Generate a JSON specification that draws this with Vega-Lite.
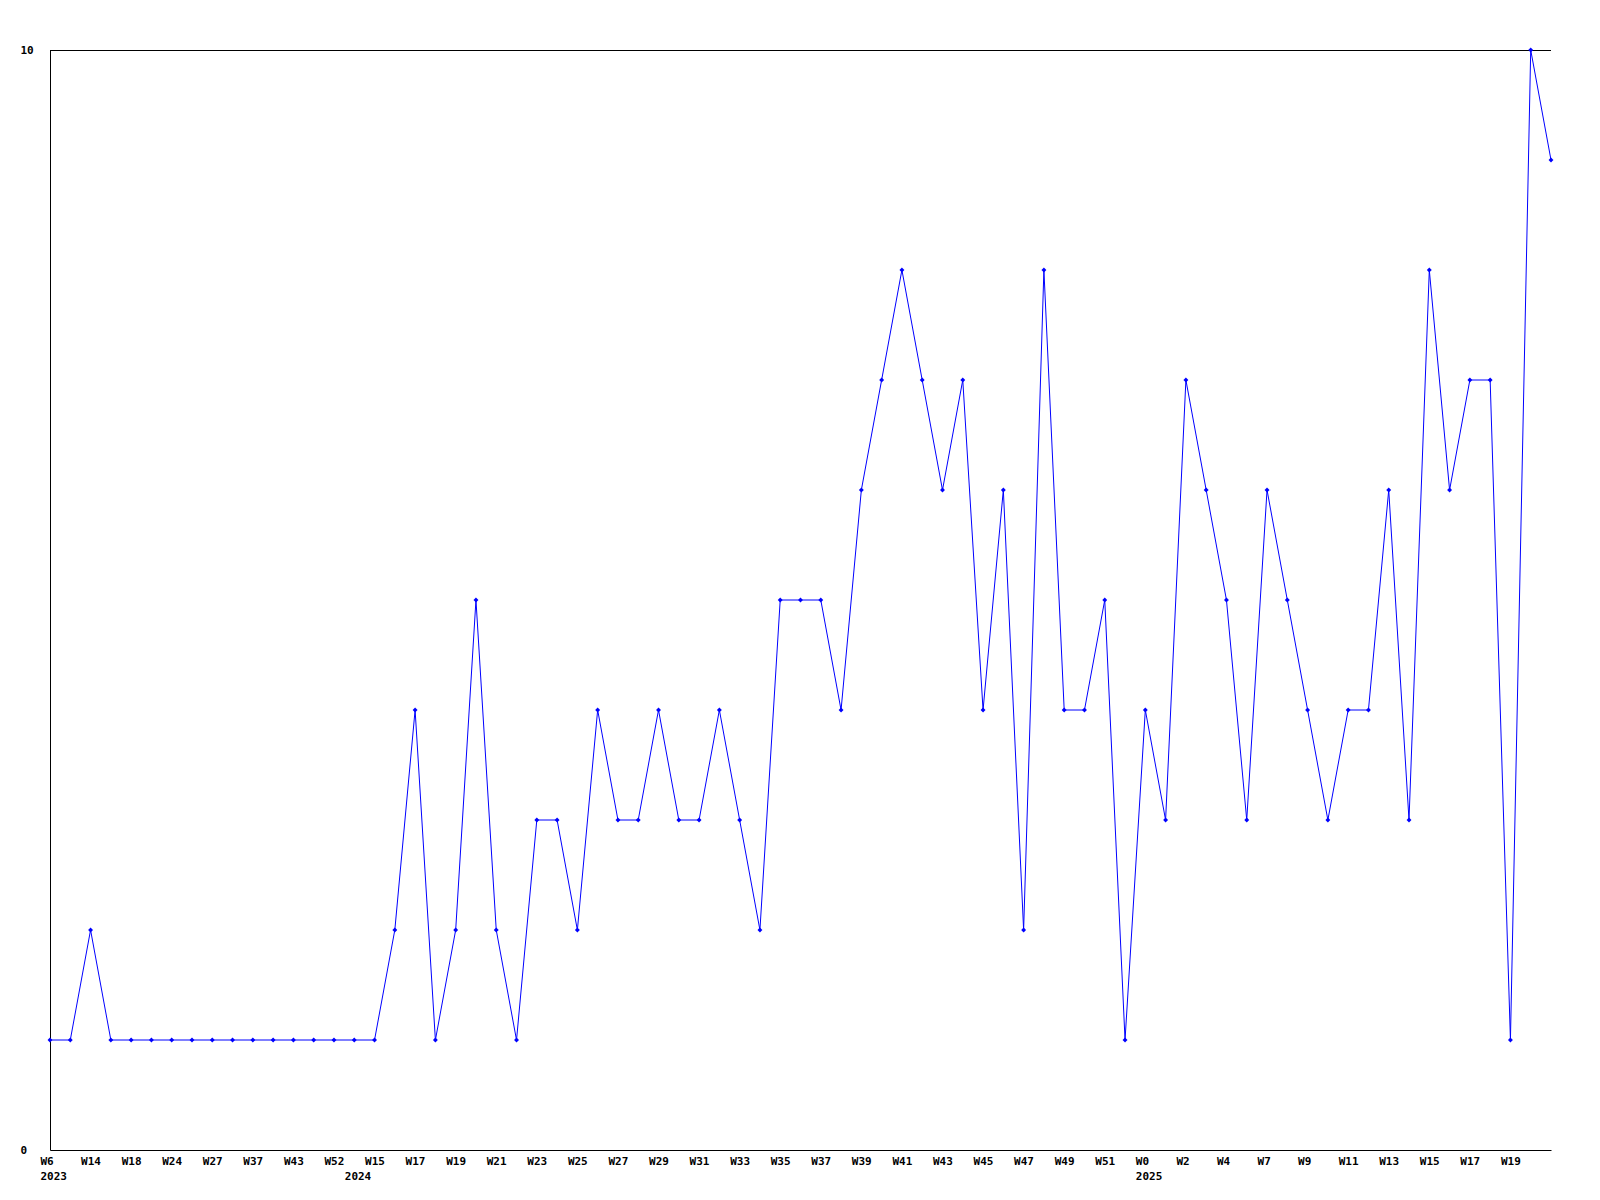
{
  "$schema": "https://vega.github.io/schema/vega-lite/v6.json",
  "width": 1501,
  "height": 1100,
  "autosize": {"type": "none"},
  "padding": {"left": 50, "top": 50, "right": 49, "bottom": 50},
  "background": "white",
  "config": {
    "view": {"stroke": null},
    "font": "DejaVu Sans Mono",
    "axis": {
      "domainColor": "black",
      "domainWidth": 1,
      "ticks": false,
      "tickSize": 0,
      "grid": false,
      "labelFont": "DejaVu Sans Mono",
      "labelFontWeight": "bold",
      "labelFontSize": 11,
      "labelColor": "black",
      "title": null
    }
  },
  "data": {
    "values": [
      {"week": "2023-W06", "count": 1},
      {"week": "2023-W10", "count": 1},
      {"week": "2023-W14", "count": 2},
      {"week": "2023-W16", "count": 1},
      {"week": "2023-W18", "count": 1},
      {"week": "2023-W21", "count": 1},
      {"week": "2023-W24", "count": 1},
      {"week": "2023-W25", "count": 1},
      {"week": "2023-W27", "count": 1},
      {"week": "2023-W32", "count": 1},
      {"week": "2023-W37", "count": 1},
      {"week": "2023-W40", "count": 1},
      {"week": "2023-W43", "count": 1},
      {"week": "2023-W48", "count": 1},
      {"week": "2023-W52", "count": 1},
      {"week": "2024-W08", "count": 1},
      {"week": "2024-W15", "count": 1},
      {"week": "2024-W16", "count": 2},
      {"week": "2024-W17", "count": 4},
      {"week": "2024-W18", "count": 1},
      {"week": "2024-W19", "count": 2},
      {"week": "2024-W20", "count": 5},
      {"week": "2024-W21", "count": 2},
      {"week": "2024-W22", "count": 1},
      {"week": "2024-W23", "count": 3},
      {"week": "2024-W24", "count": 3},
      {"week": "2024-W25", "count": 2},
      {"week": "2024-W26", "count": 4},
      {"week": "2024-W27", "count": 3},
      {"week": "2024-W28", "count": 3},
      {"week": "2024-W29", "count": 4},
      {"week": "2024-W30", "count": 3},
      {"week": "2024-W31", "count": 3},
      {"week": "2024-W32", "count": 4},
      {"week": "2024-W33", "count": 3},
      {"week": "2024-W34", "count": 2},
      {"week": "2024-W35", "count": 5},
      {"week": "2024-W36", "count": 5},
      {"week": "2024-W37", "count": 5},
      {"week": "2024-W38", "count": 4},
      {"week": "2024-W39", "count": 6},
      {"week": "2024-W40", "count": 7},
      {"week": "2024-W41", "count": 8},
      {"week": "2024-W42", "count": 7},
      {"week": "2024-W43", "count": 6},
      {"week": "2024-W44", "count": 7},
      {"week": "2024-W45", "count": 4},
      {"week": "2024-W46", "count": 6},
      {"week": "2024-W47", "count": 2},
      {"week": "2024-W48", "count": 8},
      {"week": "2024-W49", "count": 4},
      {"week": "2024-W50", "count": 4},
      {"week": "2024-W51", "count": 5},
      {"week": "2024-W52", "count": 1},
      {"week": "2025-W00", "count": 4},
      {"week": "2025-W01", "count": 3},
      {"week": "2025-W02", "count": 7},
      {"week": "2025-W03", "count": 6},
      {"week": "2025-W04", "count": 5},
      {"week": "2025-W05", "count": 3},
      {"week": "2025-W07", "count": 6},
      {"week": "2025-W08", "count": 5},
      {"week": "2025-W09", "count": 4},
      {"week": "2025-W10", "count": 3},
      {"week": "2025-W11", "count": 4},
      {"week": "2025-W12", "count": 4},
      {"week": "2025-W13", "count": 6},
      {"week": "2025-W14", "count": 3},
      {"week": "2025-W15", "count": 8},
      {"week": "2025-W16", "count": 6},
      {"week": "2025-W17", "count": 7},
      {"week": "2025-W18", "count": 7},
      {"week": "2025-W19", "count": 1},
      {"week": "2025-W20", "count": 10},
      {"week": "2025-W21", "count": 9}
    ]
  },
  "layer": [
    {
      "mark": {"type": "rule", "color": "black", "strokeWidth": 1, "yOffset": 0.5},
      "encoding": {
        "y": {"datum": 10, "type": "quantitative", "scale": {"domain": [0, 10]},
          "axis": {"values": [0, 10], "format": "d", "labelAlign": "left", "labelPadding": 30, "labelBaseline": "middle"}}
      }
    },
    {
      "mark": {"type": "line", "color": "#0000ff", "strokeWidth": 1},
      "encoding": {
        "x": {"field": "week", "type": "ordinal", "sort": null,
          "scale": {"type": "point", "padding": 0},
          "axis": {
            "values": ["2023-W06","2023-W14","2023-W18","2023-W24","2023-W27","2023-W37","2023-W43","2023-W52","2024-W08","2024-W15","2024-W17","2024-W19","2024-W21","2024-W23","2024-W25","2024-W27","2024-W29","2024-W31","2024-W33","2024-W35","2024-W37","2024-W39","2024-W41","2024-W43","2024-W45","2024-W47","2024-W49","2024-W51","2025-W00","2025-W02","2025-W04","2025-W07","2025-W09","2025-W11","2025-W13","2025-W15","2025-W17","2025-W19"],
            "labelExpr": "datum.value == '2024-W08' ? ['', '2024'] : (indexof(['2023-W06','2025-W00'], datum.value) >= 0 ? ['W' + toNumber(substring(datum.value, 6)), substring(datum.value, 0, 4)] : 'W' + toNumber(substring(datum.value, 6)))",
            "labelAngle": 0,
            "labelAlign": "left",
            "labelOffset": -10,
            "labelBaseline": "top",
            "labelPadding": 5,
            "labelLineHeight": 15,
            "labelOverlap": false,
            "labelBound": false,
            "labelFlush": false
          }},
        "y": {"field": "count", "type": "quantitative", "scale": {"domain": [0, 10]},
          "axis": {"values": [0, 10], "format": "d", "labelAlign": "left", "labelPadding": 30, "labelBaseline": "middle"}}
      }
    },
    {
      "mark": {"type": "point", "shape": "diamond", "filled": true, "color": "#0000ff", "size": 24, "opacity": 1},
      "encoding": {
        "x": {"field": "week", "type": "ordinal", "sort": null, "scale": {"type": "point", "padding": 0}},
        "y": {"field": "count", "type": "quantitative", "scale": {"domain": [0, 10]}}
      }
    }
  ]
}
